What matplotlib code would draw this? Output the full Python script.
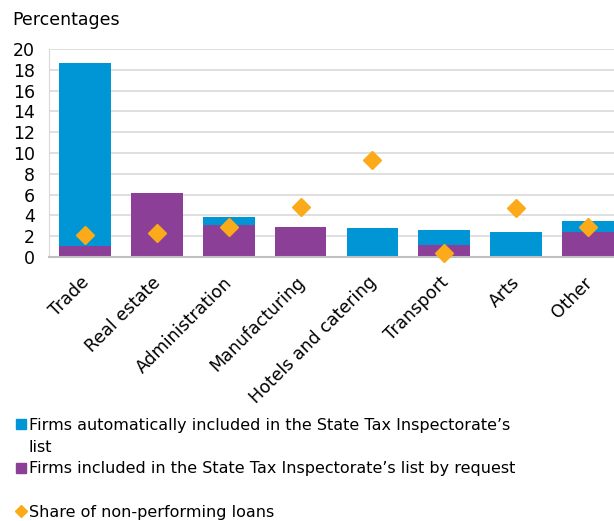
import matplotlib.pyplot as plt
import matplotlib.transforms as mtransforms
from matplotlib.lines import Line2D
from matplotlib.patches import Patch

categories = ["Trade", "Real estate", "Administration", "Manufacturing",
              "Hotels and catering", "Transport", "Arts", "Other"]
by_request = [1.1, 6.2, 3.05, 2.85, 0.0, 1.15, 0.0, 2.37]
automatic = [17.6, 0.0, 0.75, 0.0, 2.8, 1.45, 2.4, 1.06]
npl_share = [2.1, 2.3, 2.85, 4.8, 9.3, 0.35, 4.7, 2.9]

BLUE = "#0096D6"
PURPLE = "#8B3F96"
ORANGE = "#FBAA19"
GRID = "#D9D9D9"

plt.rcParams["font.family"] = ["DejaVu Sans"]

fig = plt.figure(figsize=(6.14, 5.21), dpi=100)
ax = fig.add_axes([49 / 614, 264 / 521, 575 / 614, 208 / 521])

x = range(len(categories))
ax.bar(x, by_request, width=0.72, color=PURPLE, zorder=2)
ax.bar(x, automatic, width=0.72, bottom=by_request, color=BLUE, zorder=2)
ax.plot(x, npl_share, linestyle="none", marker="D", markersize=9,
        color=ORANGE, zorder=3, clip_on=False)

ax.set_ylim(0, 20)
ax.set_xlim(-0.5, len(categories) - 0.5)
ax.set_yticks(range(0, 21, 2))
ax.yaxis.grid(True, color=GRID, linewidth=1.2, zorder=0)
ax.set_axisbelow(True)
for side in ["top", "right"]:
    ax.spines[side].set_visible(False)
ax.spines["left"].set_color(GRID)
ax.spines["bottom"].set_color("#BFBFBF")
ax.spines["bottom"].set_linewidth(1.5)
ax.tick_params(axis="y", length=0, labelsize=12.5, pad=10)
ax.tick_params(axis="x", length=0, labelsize=12.5, pad=4)
ax.set_xticks(list(x))
ax.set_xticklabels(categories, rotation=45, ha="right", rotation_mode="anchor")
# nudge the rotated labels a little down and left
shift = mtransforms.ScaledTranslation(-5 / 100, -11 / 100, fig.dpi_scale_trans)
for lbl in ax.get_xticklabels():
    lbl.set_transform(lbl.get_transform() + shift)

fig.text(12 / 614, 1 - 20 / 521, "Percentages", fontsize=12.5, va="center")

# legend: the wrapped word "list" and the gap are entries with no handle
blank = Line2D([], [], linestyle="none")
handles = [
    Patch(color=BLUE),
    blank,
    Patch(color=PURPLE),
    blank,
    Line2D([], [], linestyle="none", marker="D", markersize=6, color=ORANGE),
]
labels = [
    "Firms automatically included in the State Tax Inspectorate\u2019s",
    "list",
    "Firms included in the State Tax Inspectorate\u2019s list by request",
    "",
    "Share of non-performing loans",
]
fig.legend(handles, labels, loc="upper left", bbox_to_anchor=(16 / 614, 1 - 418 / 521),
           frameon=False, fontsize=11.5, handlelength=0.6, handleheight=0.6,
           handletextpad=0.2, labelspacing=0.42, borderpad=0, borderaxespad=0)

fig.savefig("out.png", dpi=100)
